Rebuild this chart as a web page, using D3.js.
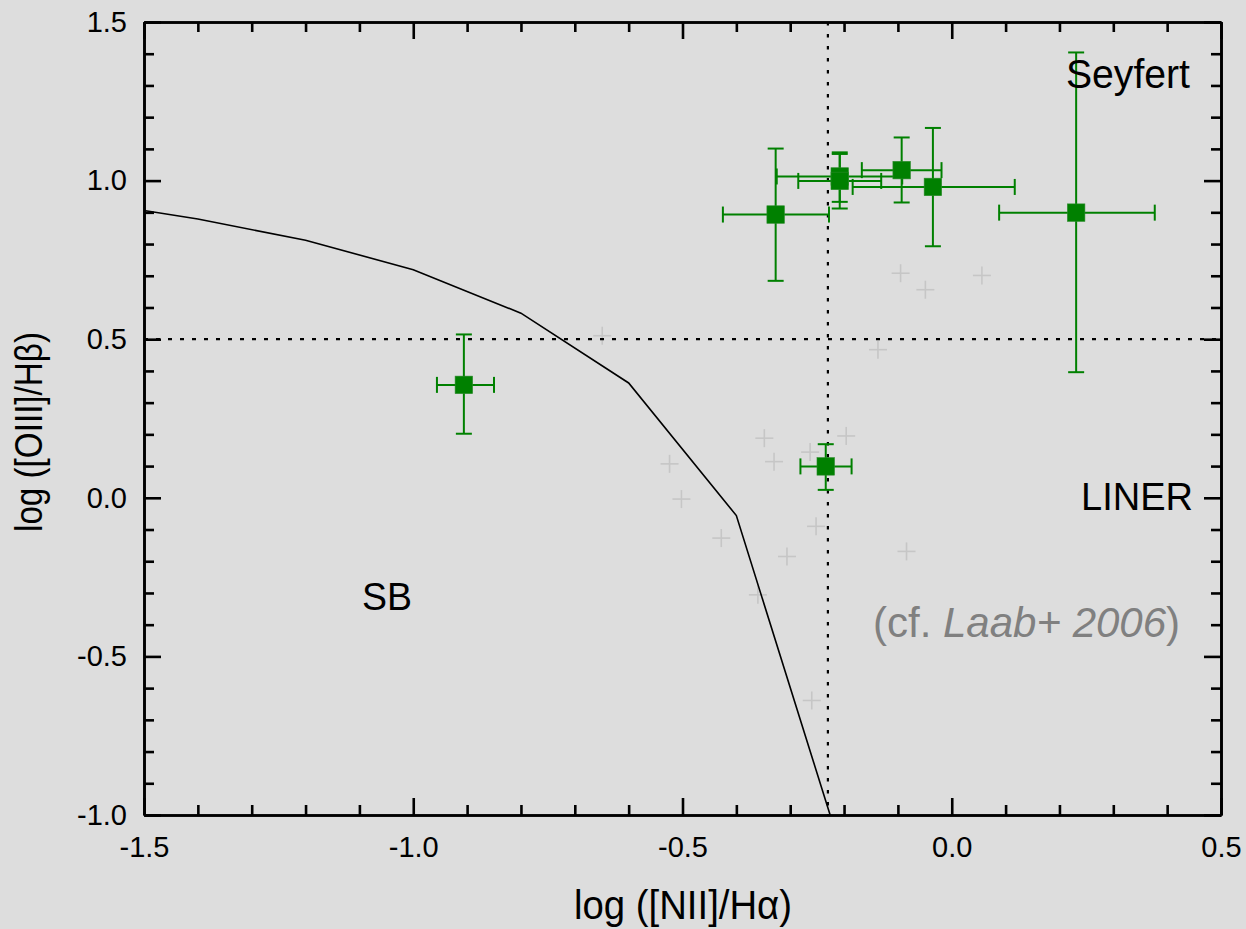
<!DOCTYPE html>
<html>
<head>
<meta charset="utf-8">
<script src="https://cdn.jsdelivr.net/npm/d3@7"></script>
<style>
  html, body { margin: 0; padding: 0; background: #dddddd; }
  svg { display: block; }
  text { font-family: "Liberation Sans", Arial, sans-serif; }
</style>
</head>
<body>
<script>
// ---------------- data ----------------
// green sample points: centre, x-error range, y-error range
const ptX    = [-0.906, -0.234, -0.327, -0.208, -0.208, -0.093, -0.035, 0.231];
const ptY    = [ 0.356,  0.099,  0.893,  1.013,  0.999,  1.033,  0.980, 0.899];
const ptXlo  = [-0.956, -0.281, -0.425, -0.325, -0.285, -0.167, -0.184, 0.088];
const ptXhi  = [-0.850, -0.186, -0.228, -0.092, -0.131, -0.019,  0.117, 0.377];
const ptYlo  = [ 0.202,  0.025,  0.684,  0.933,  0.912,  0.931,  0.793, 0.396];
const ptYhi  = [ 0.515,  0.169,  1.101,  1.089,  1.084,  1.136,  1.166, 1.404];

// comparison sample (Laab+ 2006), grey crosses
const laabX = [-0.649, -0.137, -0.348, -0.330, -0.524, -0.502, -0.263, -0.196, -0.428,
               -0.252, -0.306, -0.084, -0.360, -0.260, -0.095, -0.049,  0.056];
const laabY = [ 0.511,  0.467,  0.188,  0.114,  0.107, -0.004,  0.144,  0.195, -0.127,
               -0.090, -0.185, -0.169, -0.306, -0.639,  0.708,  0.656,  0.701];

// demarcation curve (starburst / AGN)
const curveX = [-1.5, -1.4, -1.2, -1.0, -0.8, -0.6, -0.4, -0.2];
const curveY = [0.906, 0.879, 0.812, 0.719, 0.582, 0.362, -0.056, -1.14];

// dividing lines
const vLineX = -0.23;
const hLineY = 0.5;

// axes
const xDomain = [-1.5, 0.5];
const yDomain = [-1.0, 1.5];
const xMajor = [-1.5, -1.0, -0.5, 0.0, 0.5];
const yMajor = [-1.0, -0.5, 0.0, 0.5, 1.0, 1.5];
const xMajorLabels = ["-1.5", "-1.0", "-0.5", "0.0", "0.5"];
const yMajorLabels = ["-1.0", "-0.5", "0.0", "0.5", "1.0", "1.5"];
const xMinor = [-1.4,-1.3,-1.2,-1.1,-0.9,-0.8,-0.7,-0.6,-0.4,-0.3,-0.2,-0.1,0.1,0.2,0.3,0.4];
const yMinor = [-0.9,-0.8,-0.7,-0.6,-0.4,-0.3,-0.2,-0.1,0.1,0.2,0.3,0.4,0.6,0.7,0.8,0.9,1.1,1.2,1.3,1.4];

// ---------------- drawing ----------------
const W = 1246, H = 929;
const L = 144, R = 1221, T = 22, B = 815;

const svg = d3.select("body").append("svg").attr("width", W).attr("height", H);
svg.append("rect").attr("width", W).attr("height", H).attr("fill", "#dddddd");

const x = d3.scaleLinear().domain(xDomain).range([L, R]);
const y = d3.scaleLinear().domain(yDomain).range([B, T]);

svg.append("defs").append("clipPath").attr("id", "plotclip")
  .append("rect").attr("x", L).attr("y", T).attr("width", R - L).attr("height", B - T);

// grey crosses
const cs = 9;
const crossG = svg.append("g").attr("stroke", "#c6c6c6").attr("stroke-width", 1.6);
laabX.forEach((vx, i) => {
  const cx = x(vx), cy = y(laabY[i]);
  crossG.append("line").attr("x1", cx - cs).attr("x2", cx + cs).attr("y1", cy).attr("y2", cy);
  crossG.append("line").attr("x1", cx).attr("x2", cx).attr("y1", cy - cs).attr("y2", cy + cs);
});

// demarcation curve
svg.append("path")
  .datum(curveX.map((v, i) => [v, curveY[i]]))
  .attr("clip-path", "url(#plotclip)")
  .attr("fill", "none").attr("stroke", "#000").attr("stroke-width", 1.6)
  .attr("d", d3.line().x(d => x(d[0])).y(d => y(d[1])));

// dotted lines
svg.append("line")
  .attr("x1", x(vLineX)).attr("x2", x(vLineX)).attr("y1", y(yDomain[1])).attr("y2", y(yDomain[0]))
  .attr("stroke", "#000").attr("stroke-width", 2.2).attr("stroke-dasharray", "3.5,8.5");
svg.append("line")
  .attr("x1", x(xDomain[0])).attr("x2", x(xDomain[1])).attr("y1", y(hLineY)).attr("y2", y(hLineY))
  .attr("stroke", "#000").attr("stroke-width", 2.2).attr("stroke-dasharray", "4,8");

// error bars
const green = "#008000";
const cap = 8;
const eg = svg.append("g").attr("stroke", green).attr("stroke-width", 2).attr("fill", "none");
ptX.forEach((vx, i) => {
  const cx = x(vx), cy = y(ptY[i]);
  const xl = x(ptXlo[i]), xh = x(ptXhi[i]), yl = y(ptYlo[i]), yh = y(ptYhi[i]);
  eg.append("line").attr("x1", xl).attr("x2", xh).attr("y1", cy).attr("y2", cy);
  eg.append("line").attr("x1", xl).attr("x2", xl).attr("y1", cy - cap).attr("y2", cy + cap);
  eg.append("line").attr("x1", xh).attr("x2", xh).attr("y1", cy - cap).attr("y2", cy + cap);
  eg.append("line").attr("x1", cx).attr("x2", cx).attr("y1", yl).attr("y2", yh);
  eg.append("line").attr("x1", cx - cap).attr("x2", cx + cap).attr("y1", yl).attr("y2", yl);
  eg.append("line").attr("x1", cx - cap).attr("x2", cx + cap).attr("y1", yh).attr("y2", yh);
});

// squares
const sq = 17.5;
svg.append("g").selectAll("rect").data(ptX.map((v, i) => [v, ptY[i]])).join("rect")
  .attr("x", d => x(d[0]) - sq / 2).attr("y", d => y(d[1]) - sq / 2)
  .attr("width", sq).attr("height", sq)
  .attr("fill", green).attr("stroke", "#2a8a2a").attr("stroke-width", 0.6);

// ---------------- axes ----------------
function styleAxis(g) {
  g.select(".domain").attr("stroke", "#000").attr("stroke-width", 2.6);
  g.selectAll(".tick line").attr("stroke", "#000").attr("stroke-width", 2.6);
  g.selectAll(".tick text").attr("fill", "#000")
    .style("font-family", '"Liberation Sans", Arial, sans-serif').style("font-size", "29px");
}
const majLen = 17, minLen = 10;
const xFmt = d => xMajorLabels[xMajor.indexOf(d)];
const yFmt = d => yMajorLabels[yMajor.indexOf(d)];

// bottom
svg.append("g").attr("transform", `translate(0,${B})`)
  .call(d3.axisBottom(x).tickValues(xMajor).tickSize(-majLen).tickSizeOuter(0).tickPadding(21)
        .tickFormat(xFmt))
  .call(styleAxis);
svg.append("g").attr("transform", `translate(0,${B})`)
  .call(d3.axisBottom(x).tickValues(xMinor).tickSize(-minLen).tickSizeOuter(0).tickFormat(""))
  .call(styleAxis);
// top
svg.append("g").attr("transform", `translate(0,${T})`)
  .call(d3.axisTop(x).tickValues(xMajor).tickSize(-majLen).tickSizeOuter(0).tickFormat(""))
  .call(styleAxis);
svg.append("g").attr("transform", `translate(0,${T})`)
  .call(d3.axisTop(x).tickValues(xMinor).tickSize(-minLen).tickSizeOuter(0).tickFormat(""))
  .call(styleAxis);
// left
svg.append("g").attr("transform", `translate(${L},0)`)
  .call(d3.axisLeft(y).tickValues(yMajor).tickSize(-majLen).tickSizeOuter(0).tickPadding(17)
        .tickFormat(yFmt))
  .call(styleAxis);
svg.append("g").attr("transform", `translate(${L},0)`)
  .call(d3.axisLeft(y).tickValues(yMinor).tickSize(-minLen).tickSizeOuter(0).tickFormat(""))
  .call(styleAxis);
// right
svg.append("g").attr("transform", `translate(${R},0)`)
  .call(d3.axisRight(y).tickValues(yMajor).tickSize(-majLen).tickSizeOuter(0).tickFormat(""))
  .call(styleAxis);
svg.append("g").attr("transform", `translate(${R},0)`)
  .call(d3.axisRight(y).tickValues(yMinor).tickSize(-minLen).tickSizeOuter(0).tickFormat(""))
  .call(styleAxis);

// ---------------- titles ----------------
svg.append("text").attr("x", 683).attr("y", 919).attr("text-anchor", "middle")
  .attr("font-size", 41).attr("fill", "#000")
  .attr("textLength", 218).attr("lengthAdjust", "spacingAndGlyphs")
  .text("log ([NII]/Hα)");

svg.append("text").attr("transform", "translate(42,432) rotate(-90)")
  .attr("text-anchor", "middle").attr("font-size", 39).attr("fill", "#000")
  .attr("textLength", 200).attr("lengthAdjust", "spacingAndGlyphs")
  .text("log ([OIII]/Hβ)");

// ---------------- region labels ----------------
svg.append("text").attr("x", 1066).attr("y", 88).attr("font-size", 41).attr("fill", "#000")
  .attr("textLength", 124).attr("lengthAdjust", "spacingAndGlyphs").text("Seyfert");
svg.append("text").attr("x", 1081).attr("y", 510).attr("font-size", 38).attr("fill", "#000")
  .attr("textLength", 112).attr("lengthAdjust", "spacingAndGlyphs").text("LINER");
svg.append("text").attr("x", 362).attr("y", 610).attr("font-size", 39).attr("fill", "#000")
  .attr("textLength", 50).attr("lengthAdjust", "spacingAndGlyphs").text("SB");

const cf = svg.append("text").attr("x", 873).attr("y", 637).attr("font-size", 42).attr("fill", "#808080");
cf.append("tspan").text("(cf. ");
cf.append("tspan").attr("font-style", "italic").text("Laab+ 2006");
cf.append("tspan").text(")");
</script>
</body>
</html>
